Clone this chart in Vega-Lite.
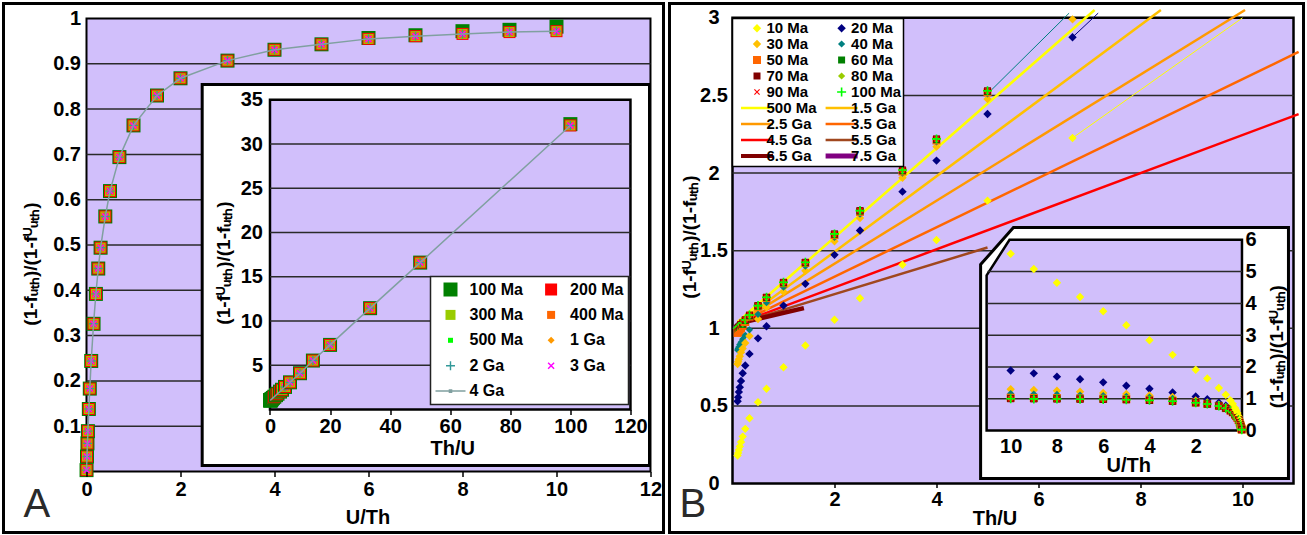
{
  "$schema": "https://vega.github.io/schema/vega-lite/v6.json",
  "background": "white",
  "padding": {"left": 1.5, "top": 1.5, "right": 0, "bottom": 0},
  "spacing": 2,
  "resolve": {
    "scale": {"fill": "independent", "shape": "independent", "color": "independent"},
    "legend": {"fill": "independent", "shape": "independent", "color": "independent"}
  },
  "datasets": {
    "lmain": [
      {"ut":0.001,"100 Ma":0.003,"200 Ma":0.003,"300 Ma":0.003,"400 Ma":0.003,"500 Ma":0.003,"1 Ga":0.003,"2 Ga":0.003,"3 Ga":0.003,"4 Ga":0.003},
      {"ut":0.01,"100 Ma":0.033,"200 Ma":0.033,"300 Ma":0.033,"400 Ma":0.033,"500 Ma":0.033,"1 Ga":0.033,"2 Ga":0.033,"3 Ga":0.033,"4 Ga":0.033},
      {"ut":0.02,"100 Ma":0.062,"200 Ma":0.062,"300 Ma":0.062,"400 Ma":0.062,"500 Ma":0.062,"1 Ga":0.062,"2 Ga":0.062,"3 Ga":0.062,"4 Ga":0.062},
      {"ut":0.03,"100 Ma":0.089,"200 Ma":0.089,"300 Ma":0.089,"400 Ma":0.089,"500 Ma":0.089,"1 Ga":0.089,"2 Ga":0.089,"3 Ga":0.089,"4 Ga":0.089},
      {"ut":0.05,"100 Ma":0.138,"200 Ma":0.138,"300 Ma":0.138,"400 Ma":0.138,"500 Ma":0.138,"1 Ga":0.138,"2 Ga":0.138,"3 Ga":0.138,"4 Ga":0.138},
      {"ut":0.07,"100 Ma":0.183,"200 Ma":0.183,"300 Ma":0.183,"400 Ma":0.183,"500 Ma":0.183,"1 Ga":0.183,"2 Ga":0.183,"3 Ga":0.183,"4 Ga":0.183},
      {"ut":0.1,"100 Ma":0.244,"200 Ma":0.244,"300 Ma":0.244,"400 Ma":0.244,"500 Ma":0.244,"1 Ga":0.244,"2 Ga":0.244,"3 Ga":0.244,"4 Ga":0.244},
      {"ut":0.15,"100 Ma":0.326,"200 Ma":0.326,"300 Ma":0.326,"400 Ma":0.326,"500 Ma":0.326,"1 Ga":0.326,"2 Ga":0.326,"3 Ga":0.326,"4 Ga":0.326},
      {"ut":0.2,"100 Ma":0.392,"200 Ma":0.392,"300 Ma":0.392,"400 Ma":0.392,"500 Ma":0.392,"1 Ga":0.392,"2 Ga":0.392,"3 Ga":0.392,"4 Ga":0.392},
      {"ut":0.25,"100 Ma":0.448,"200 Ma":0.448,"300 Ma":0.448,"400 Ma":0.448,"500 Ma":0.448,"1 Ga":0.448,"2 Ga":0.448,"3 Ga":0.448,"4 Ga":0.448},
      {"ut":0.3,"100 Ma":0.494,"200 Ma":0.494,"300 Ma":0.494,"400 Ma":0.494,"500 Ma":0.494,"1 Ga":0.494,"2 Ga":0.494,"3 Ga":0.494,"4 Ga":0.494},
      {"ut":0.4,"100 Ma":0.563,"200 Ma":0.563,"300 Ma":0.563,"400 Ma":0.563,"500 Ma":0.563,"1 Ga":0.563,"2 Ga":0.563,"3 Ga":0.563,"4 Ga":0.563},
      {"ut":0.5,"100 Ma":0.619,"200 Ma":0.619,"300 Ma":0.619,"400 Ma":0.619,"500 Ma":0.619,"1 Ga":0.619,"2 Ga":0.619,"3 Ga":0.619,"4 Ga":0.619},
      {"ut":0.7,"100 Ma":0.694,"200 Ma":0.694,"300 Ma":0.694,"400 Ma":0.694,"500 Ma":0.694,"1 Ga":0.694,"2 Ga":0.694,"3 Ga":0.694,"4 Ga":0.694},
      {"ut":1,"100 Ma":0.764,"200 Ma":0.764,"300 Ma":0.764,"400 Ma":0.764,"500 Ma":0.764,"1 Ga":0.764,"2 Ga":0.764,"3 Ga":0.764,"4 Ga":0.764},
      {"ut":1.5,"100 Ma":0.83,"200 Ma":0.83,"300 Ma":0.83,"400 Ma":0.83,"500 Ma":0.83,"1 Ga":0.83,"2 Ga":0.83,"3 Ga":0.83,"4 Ga":0.83},
      {"ut":2,"100 Ma":0.868,"200 Ma":0.868,"300 Ma":0.868,"400 Ma":0.868,"500 Ma":0.868,"1 Ga":0.868,"2 Ga":0.868,"3 Ga":0.868,"4 Ga":0.868},
      {"ut":3,"100 Ma":0.907,"200 Ma":0.907,"300 Ma":0.907,"400 Ma":0.907,"500 Ma":0.907,"1 Ga":0.907,"2 Ga":0.907,"3 Ga":0.907,"4 Ga":0.907},
      {"ut":4,"100 Ma":0.931,"200 Ma":0.931,"300 Ma":0.931,"400 Ma":0.931,"500 Ma":0.931,"1 Ga":0.931,"2 Ga":0.931,"3 Ga":0.931,"4 Ga":0.931},
      {"ut":5,"100 Ma":0.943,"200 Ma":0.943,"300 Ma":0.943,"400 Ma":0.943,"500 Ma":0.943,"1 Ga":0.943,"2 Ga":0.943,"3 Ga":0.943,"4 Ga":0.943},
      {"ut":6,"100 Ma":0.957,"200 Ma":0.955,"300 Ma":0.955,"400 Ma":0.955,"500 Ma":0.955,"1 Ga":0.955,"2 Ga":0.955,"3 Ga":0.955,"4 Ga":0.955},
      {"ut":7,"100 Ma":0.963,"200 Ma":0.961,"300 Ma":0.961,"400 Ma":0.961,"500 Ma":0.961,"1 Ga":0.961,"2 Ga":0.961,"3 Ga":0.961,"4 Ga":0.961},
      {"ut":8,"100 Ma":0.972,"200 Ma":0.966,"300 Ma":0.966,"400 Ma":0.966,"500 Ma":0.966,"1 Ga":0.966,"2 Ga":0.966,"3 Ga":0.966,"4 Ga":0.966},
      {"ut":9,"100 Ma":0.975,"200 Ma":0.97,"300 Ma":0.97,"400 Ma":0.97,"500 Ma":0.97,"1 Ga":0.97,"2 Ga":0.97,"3 Ga":0.97,"4 Ga":0.97},
      {"ut":10,"100 Ma":0.982,"200 Ma":0.972,"300 Ma":0.972,"400 Ma":0.972,"500 Ma":0.972,"1 Ga":0.972,"2 Ga":0.972,"3 Ga":0.972,"4 Ga":0.972}
    ],
    "linset": [
      {"tu":0.1,"100 Ma":1.029,"200 Ma":1.029,"300 Ma":1.029,"400 Ma":1.029,"500 Ma":1.029,"1 Ga":1.029,"2 Ga":1.029,"3 Ga":1.029,"4 Ga":1.029},
      {"tu":0.111,"100 Ma":1.031,"200 Ma":1.031,"300 Ma":1.031,"400 Ma":1.031,"500 Ma":1.031,"1 Ga":1.031,"2 Ga":1.031,"3 Ga":1.031,"4 Ga":1.031},
      {"tu":0.125,"100 Ma":1.035,"200 Ma":1.035,"300 Ma":1.035,"400 Ma":1.035,"500 Ma":1.035,"1 Ga":1.035,"2 Ga":1.035,"3 Ga":1.035,"4 Ga":1.035},
      {"tu":0.143,"100 Ma":1.041,"200 Ma":1.041,"300 Ma":1.041,"400 Ma":1.041,"500 Ma":1.041,"1 Ga":1.041,"2 Ga":1.041,"3 Ga":1.041,"4 Ga":1.041},
      {"tu":0.167,"100 Ma":1.047,"200 Ma":1.047,"300 Ma":1.047,"400 Ma":1.047,"500 Ma":1.047,"1 Ga":1.047,"2 Ga":1.047,"3 Ga":1.047,"4 Ga":1.047},
      {"tu":0.2,"100 Ma":1.059,"200 Ma":1.059,"300 Ma":1.059,"400 Ma":1.059,"500 Ma":1.059,"1 Ga":1.059,"2 Ga":1.059,"3 Ga":1.059,"4 Ga":1.059},
      {"tu":0.25,"100 Ma":1.074,"200 Ma":1.074,"300 Ma":1.074,"400 Ma":1.074,"500 Ma":1.074,"1 Ga":1.074,"2 Ga":1.074,"3 Ga":1.074,"4 Ga":1.074},
      {"tu":0.333,"100 Ma":1.103,"200 Ma":1.103,"300 Ma":1.103,"400 Ma":1.103,"500 Ma":1.103,"1 Ga":1.103,"2 Ga":1.103,"3 Ga":1.103,"4 Ga":1.103},
      {"tu":0.5,"100 Ma":1.152,"200 Ma":1.152,"300 Ma":1.152,"400 Ma":1.152,"500 Ma":1.152,"1 Ga":1.152,"2 Ga":1.152,"3 Ga":1.152,"4 Ga":1.152},
      {"tu":0.667,"100 Ma":1.205,"200 Ma":1.205,"300 Ma":1.205,"400 Ma":1.205,"500 Ma":1.205,"1 Ga":1.205,"2 Ga":1.205,"3 Ga":1.205,"4 Ga":1.205},
      {"tu":1,"100 Ma":1.31,"200 Ma":1.31,"300 Ma":1.31,"400 Ma":1.31,"500 Ma":1.31,"1 Ga":1.31,"2 Ga":1.31,"3 Ga":1.31,"4 Ga":1.31},
      {"tu":1.429,"100 Ma":1.44,"200 Ma":1.44,"300 Ma":1.44,"400 Ma":1.44,"500 Ma":1.44,"1 Ga":1.44,"2 Ga":1.44,"3 Ga":1.44,"4 Ga":1.44},
      {"tu":2,"100 Ma":1.62,"200 Ma":1.62,"300 Ma":1.62,"400 Ma":1.62,"500 Ma":1.62,"1 Ga":1.62,"2 Ga":1.62,"3 Ga":1.62,"4 Ga":1.62},
      {"tu":2.5,"100 Ma":1.78,"200 Ma":1.78,"300 Ma":1.78,"400 Ma":1.78,"500 Ma":1.78,"1 Ga":1.78,"2 Ga":1.78,"3 Ga":1.78,"4 Ga":1.78},
      {"tu":3.333,"100 Ma":2.02,"200 Ma":2.02,"300 Ma":2.02,"400 Ma":2.02,"500 Ma":2.02,"1 Ga":2.02,"2 Ga":2.02,"3 Ga":2.02,"4 Ga":2.02},
      {"tu":4,"100 Ma":2.23,"200 Ma":2.23,"300 Ma":2.23,"400 Ma":2.23,"500 Ma":2.23,"1 Ga":2.23,"2 Ga":2.23,"3 Ga":2.23,"4 Ga":2.23},
      {"tu":5,"100 Ma":2.55,"200 Ma":2.55,"300 Ma":2.55,"400 Ma":2.55,"500 Ma":2.55,"1 Ga":2.55,"2 Ga":2.55,"3 Ga":2.55,"4 Ga":2.55},
      {"tu":6.667,"100 Ma":3.07,"200 Ma":3.07,"300 Ma":3.07,"400 Ma":3.07,"500 Ma":3.07,"1 Ga":3.07,"2 Ga":3.07,"3 Ga":3.07,"4 Ga":3.07},
      {"tu":10,"100 Ma":4.1,"200 Ma":4.1,"300 Ma":4.1,"400 Ma":4.1,"500 Ma":4.1,"1 Ga":4.1,"2 Ga":4.1,"3 Ga":4.1,"4 Ga":4.1},
      {"tu":14.29,"100 Ma":5.53,"200 Ma":5.53,"300 Ma":5.53,"400 Ma":5.53,"500 Ma":5.53,"1 Ga":5.53,"2 Ga":5.53,"3 Ga":5.53,"4 Ga":5.53},
      {"tu":20,"100 Ma":7.3,"200 Ma":7.3,"300 Ma":7.3,"400 Ma":7.3,"500 Ma":7.3,"1 Ga":7.3,"2 Ga":7.3,"3 Ga":7.3,"4 Ga":7.3},
      {"tu":33.33,"100 Ma":11.45,"200 Ma":11.45,"300 Ma":11.45,"400 Ma":11.45,"500 Ma":11.45,"1 Ga":11.45,"2 Ga":11.45,"3 Ga":11.45,"4 Ga":11.45},
      {"tu":50,"100 Ma":16.6,"200 Ma":16.6,"300 Ma":16.6,"400 Ma":16.6,"500 Ma":16.6,"1 Ga":16.6,"2 Ga":16.6,"3 Ga":16.6,"4 Ga":16.6},
      {"tu":100,"100 Ma":32.25,"200 Ma":32.1,"300 Ma":32.1,"400 Ma":32.1,"500 Ma":32.1,"1 Ga":32.1,"2 Ga":32.1,"3 Ga":32.1,"4 Ga":32.1}
    ],
    "rmain": [
      {"tu":0.1,"10 Ma":0.18,"20 Ma":0.53,"30 Ma":0.77,"40 Ma":0.86,"50 Ma":0.97,"60 Ma":0.99,"70 Ma":1.0,"80 Ma":0.997,"90 Ma":1.0,"100 Ma":1.0},
      {"tu":0.111,"10 Ma":0.197,"20 Ma":0.556,"30 Ma":0.785,"40 Ma":0.87,"50 Ma":0.975,"60 Ma":0.995,"70 Ma":1.005,"80 Ma":1.002,"90 Ma":1.005,"100 Ma":1.005},
      {"tu":0.125,"10 Ma":0.215,"20 Ma":0.59,"30 Ma":0.8,"40 Ma":0.88,"50 Ma":0.98,"60 Ma":1.0,"70 Ma":1.01,"80 Ma":1.007,"90 Ma":1.01,"100 Ma":1.01},
      {"tu":0.143,"10 Ma":0.238,"20 Ma":0.62,"30 Ma":0.82,"40 Ma":0.895,"50 Ma":0.99,"60 Ma":1.005,"70 Ma":1.015,"80 Ma":1.012,"90 Ma":1.015,"100 Ma":1.015},
      {"tu":0.167,"10 Ma":0.267,"20 Ma":0.66,"30 Ma":0.845,"40 Ma":0.91,"50 Ma":1.0,"60 Ma":1.015,"70 Ma":1.025,"80 Ma":1.022,"90 Ma":1.025,"100 Ma":1.025},
      {"tu":0.2,"10 Ma":0.302,"20 Ma":0.71,"30 Ma":0.87,"40 Ma":0.93,"50 Ma":1.015,"60 Ma":1.025,"70 Ma":1.035,"80 Ma":1.032,"90 Ma":1.035,"100 Ma":1.035},
      {"tu":0.25,"10 Ma":0.352,"20 Ma":0.76,"30 Ma":0.905,"40 Ma":0.955,"50 Ma":1.04,"60 Ma":1.05,"70 Ma":1.055,"80 Ma":1.052,"90 Ma":1.055,"100 Ma":1.055},
      {"tu":0.333,"10 Ma":0.42,"20 Ma":0.835,"30 Ma":0.95,"40 Ma":0.99,"50 Ma":1.075,"60 Ma":1.08,"70 Ma":1.085,"80 Ma":1.082,"90 Ma":1.085,"100 Ma":1.085},
      {"tu":0.5,"10 Ma":0.524,"20 Ma":0.935,"30 Ma":1.06,"40 Ma":1.09,"50 Ma":1.14,"60 Ma":1.143,"70 Ma":1.146,"80 Ma":1.143,"90 Ma":1.146,"100 Ma":1.146},
      {"tu":0.667,"10 Ma":0.61,"20 Ma":1.013,"30 Ma":1.135,"40 Ma":1.165,"50 Ma":1.195,"60 Ma":1.198,"70 Ma":1.2,"80 Ma":1.197,"90 Ma":1.2,"100 Ma":1.2},
      {"tu":1,"10 Ma":0.749,"20 Ma":1.146,"30 Ma":1.235,"40 Ma":1.265,"50 Ma":1.29,"60 Ma":1.293,"70 Ma":1.296,"80 Ma":1.293,"90 Ma":1.296,"100 Ma":1.296},
      {"tu":1.429,"10 Ma":0.889,"20 Ma":1.286,"30 Ma":1.37,"40 Ma":1.4,"50 Ma":1.42,"60 Ma":1.422,"70 Ma":1.425,"80 Ma":1.422,"90 Ma":1.425,"100 Ma":1.425},
      {"tu":2,"10 Ma":1.055,"20 Ma":1.473,"30 Ma":1.56,"40 Ma":1.585,"50 Ma":1.6,"60 Ma":1.605,"70 Ma":1.608,"80 Ma":1.605,"90 Ma":1.608,"100 Ma":1.608},
      {"tu":2.5,"10 Ma":1.193,"20 Ma":1.63,"30 Ma":1.71,"40 Ma":1.735,"50 Ma":1.75,"60 Ma":1.755,"70 Ma":1.758,"80 Ma":1.755,"90 Ma":1.758,"100 Ma":1.758},
      {"tu":3.333,"10 Ma":1.409,"20 Ma":1.88,"30 Ma":1.97,"40 Ma":2.0,"50 Ma":2.01,"60 Ma":2.015,"70 Ma":2.02,"80 Ma":2.017,"90 Ma":2.02,"100 Ma":2.02},
      {"tu":4,"10 Ma":1.569,"20 Ma":2.08,"30 Ma":2.17,"40 Ma":2.2,"50 Ma":2.21,"60 Ma":2.215,"70 Ma":2.22,"80 Ma":2.217,"90 Ma":2.22,"100 Ma":2.22},
      {"tu":5,"10 Ma":1.822,"20 Ma":2.38,"30 Ma":2.477,"40 Ma":2.51,"50 Ma":2.52,"60 Ma":2.525,"70 Ma":2.53,"80 Ma":2.527,"90 Ma":2.53,"100 Ma":2.53},
      {"tu":6.667,"10 Ma":2.226,"20 Ma":2.875,"30 Ma":2.99,"40 Ma":null,"50 Ma":null,"60 Ma":null,"70 Ma":null,"80 Ma":null,"90 Ma":null,"100 Ma":null}
    ],
    "rinset": [
      {"ut":10,"10 Ma":5.56,"20 Ma":1.887,"30 Ma":1.3,"40 Ma":1.163,"50 Ma":1.031,"60 Ma":1.01,"70 Ma":1.0,"80 Ma":1.003,"90 Ma":1.0,"100 Ma":1.0},
      {"ut":9,"10 Ma":5.08,"20 Ma":1.799,"30 Ma":1.274,"40 Ma":1.149,"50 Ma":1.026,"60 Ma":1.005,"70 Ma":0.995,"80 Ma":0.998,"90 Ma":0.995,"100 Ma":0.995},
      {"ut":8,"10 Ma":4.65,"20 Ma":1.695,"30 Ma":1.25,"40 Ma":1.136,"50 Ma":1.02,"60 Ma":1.0,"70 Ma":0.99,"80 Ma":0.993,"90 Ma":0.99,"100 Ma":0.99},
      {"ut":7,"10 Ma":4.2,"20 Ma":1.613,"30 Ma":1.22,"40 Ma":1.117,"50 Ma":1.01,"60 Ma":0.995,"70 Ma":0.985,"80 Ma":0.988,"90 Ma":0.985,"100 Ma":0.985},
      {"ut":6,"10 Ma":3.75,"20 Ma":1.515,"30 Ma":1.183,"40 Ma":1.099,"50 Ma":1.0,"60 Ma":0.985,"70 Ma":0.976,"80 Ma":0.979,"90 Ma":0.976,"100 Ma":0.976},
      {"ut":5,"10 Ma":3.31,"20 Ma":1.408,"30 Ma":1.149,"40 Ma":1.075,"50 Ma":0.985,"60 Ma":0.976,"70 Ma":0.966,"80 Ma":0.969,"90 Ma":0.966,"100 Ma":0.966},
      {"ut":4,"10 Ma":2.84,"20 Ma":1.316,"30 Ma":1.105,"40 Ma":1.047,"50 Ma":0.962,"60 Ma":0.952,"70 Ma":0.948,"80 Ma":0.951,"90 Ma":0.948,"100 Ma":0.948},
      {"ut":3,"10 Ma":2.38,"20 Ma":1.198,"30 Ma":1.053,"40 Ma":1.01,"50 Ma":0.93,"60 Ma":0.926,"70 Ma":0.922,"80 Ma":0.925,"90 Ma":0.922,"100 Ma":0.922},
      {"ut":2,"10 Ma":1.91,"20 Ma":1.07,"30 Ma":0.943,"40 Ma":0.917,"50 Ma":0.877,"60 Ma":0.875,"70 Ma":0.873,"80 Ma":0.875,"90 Ma":0.873,"100 Ma":0.873},
      {"ut":1.5,"10 Ma":1.64,"20 Ma":0.987,"30 Ma":0.881,"40 Ma":0.858,"50 Ma":0.837,"60 Ma":0.835,"70 Ma":0.833,"80 Ma":0.835,"90 Ma":0.833,"100 Ma":0.833},
      {"ut":1,"10 Ma":1.335,"20 Ma":0.873,"30 Ma":0.81,"40 Ma":0.791,"50 Ma":0.775,"60 Ma":0.773,"70 Ma":0.772,"80 Ma":0.773,"90 Ma":0.772,"100 Ma":0.772},
      {"ut":0.7,"10 Ma":1.125,"20 Ma":0.778,"30 Ma":0.73,"40 Ma":0.714,"50 Ma":0.704,"60 Ma":0.703,"70 Ma":0.702,"80 Ma":0.703,"90 Ma":0.702,"100 Ma":0.702},
      {"ut":0.5,"10 Ma":0.948,"20 Ma":0.679,"30 Ma":0.641,"40 Ma":0.631,"50 Ma":0.625,"60 Ma":0.623,"70 Ma":0.622,"80 Ma":0.623,"90 Ma":0.622,"100 Ma":0.622},
      {"ut":0.4,"10 Ma":0.838,"20 Ma":0.613,"30 Ma":0.585,"40 Ma":0.576,"50 Ma":0.571,"60 Ma":0.57,"70 Ma":0.569,"80 Ma":0.57,"90 Ma":0.569,"100 Ma":0.569},
      {"ut":0.3,"10 Ma":0.71,"20 Ma":0.532,"30 Ma":0.508,"40 Ma":0.5,"50 Ma":0.498,"60 Ma":0.496,"70 Ma":0.495,"80 Ma":0.496,"90 Ma":0.495,"100 Ma":0.495},
      {"ut":0.25,"10 Ma":0.637,"20 Ma":0.481,"30 Ma":0.461,"40 Ma":0.455,"50 Ma":0.452,"60 Ma":0.451,"70 Ma":0.45,"80 Ma":0.451,"90 Ma":0.45,"100 Ma":0.45},
      {"ut":0.2,"10 Ma":0.549,"20 Ma":0.42,"30 Ma":0.404,"40 Ma":0.398,"50 Ma":0.397,"60 Ma":0.396,"70 Ma":0.395,"80 Ma":0.396,"90 Ma":0.395,"100 Ma":0.395},
      {"ut":0.15,"10 Ma":0.449,"20 Ma":0.348,"30 Ma":0.334,"40 Ma":0.329,"50 Ma":0.327,"60 Ma":0.327,"70 Ma":0.328,"80 Ma":0.327,"90 Ma":0.328,"100 Ma":0.328},
      {"ut":0.1,"10 Ma":0.333,"20 Ma":0.26,"30 Ma":0.25,"40 Ma":0.25,"50 Ma":0.248,"60 Ma":0.248,"70 Ma":0.25,"80 Ma":0.249,"90 Ma":0.25,"100 Ma":0.25},
      {"ut":0.07,"10 Ma":0.24,"20 Ma":0.19,"30 Ma":0.18,"40 Ma":0.18,"50 Ma":0.178,"60 Ma":0.178,"70 Ma":0.18,"80 Ma":0.179,"90 Ma":0.18,"100 Ma":0.18},
      {"ut":0.05,"10 Ma":0.175,"20 Ma":0.14,"30 Ma":0.135,"40 Ma":0.13,"50 Ma":0.13,"60 Ma":0.13,"70 Ma":0.13,"80 Ma":0.13,"90 Ma":0.13,"100 Ma":0.13},
      {"ut":0.03,"10 Ma":0.105,"20 Ma":0.085,"30 Ma":0.083,"40 Ma":0.082,"50 Ma":0.08,"60 Ma":0.08,"70 Ma":0.08,"80 Ma":0.08,"90 Ma":0.08,"100 Ma":0.08},
      {"ut":0.02,"10 Ma":0.07,"20 Ma":0.057,"30 Ma":0.056,"40 Ma":0.055,"50 Ma":0.054,"60 Ma":0.054,"70 Ma":0.054,"80 Ma":0.054,"90 Ma":0.054,"100 Ma":0.054},
      {"ut":0.01,"10 Ma":0.035,"20 Ma":0.029,"30 Ma":0.028,"40 Ma":0.028,"50 Ma":0.027,"60 Ma":0.027,"70 Ma":0.027,"80 Ma":0.027,"90 Ma":0.027,"100 Ma":0.027}
    ],
    "rlines": [
      {"series":"500 Ma","tu":0.1,"y":1.04},{"series":"500 Ma","tu":7.1,"y":3.05},
      {"series":"1.5 Ga","tu":0.1,"y":1.03},{"series":"1.5 Ga","tu":8.4,"y":3.05},
      {"series":"2.5 Ga","tu":0.1,"y":1.03},{"series":"2.5 Ga","tu":10.05,"y":3.05},
      {"series":"3.5 Ga","tu":0.1,"y":1.03},{"series":"3.5 Ga","tu":11.1,"y":2.78},
      {"series":"4.5 Ga","tu":0.1,"y":1.03},{"series":"4.5 Ga","tu":11.1,"y":2.38},
      {"series":"5.5 Ga","tu":0.1,"y":1.03},{"series":"5.5 Ga","tu":5.0,"y":1.52},
      {"series":"6.5 Ga","tu":0.1,"y":1.03},{"series":"6.5 Ga","tu":1.4,"y":1.13},
      {"series":"7.5 Ga","tu":0.02,"y":1.0},{"series":"7.5 Ga","tu":0.15,"y":1.015}
    ],
    "rsegs": [
      {"series":"10 Ma","tu":6.667,"y":2.226},{"series":"10 Ma","tu":10.0,"y":3.0},
      {"series":"20 Ma","tu":6.667,"y":2.875},{"series":"20 Ma","tu":7.17,"y":3.03},
      {"series":"40 Ma","tu":5.0,"y":2.51},{"series":"40 Ma","tu":6.6,"y":3.03}
    ]
  },
  "hconcat": [
    {
      "width": 660,
      "height": 529,
      "title": {"text": "A", "orient": "bottom", "anchor": "start", "frame": "group", "offset": -48, "dx": 20, "fontSize": 40, "fontWeight": "normal", "color": "#2a2a2a"},
      "resolve": {"scale": {"x": "independent", "y": "independent"}},
      "layer": [
        {
          "layer": [
            {
              "data": {"values": [{}]},
              "mark": {"type": "rect", "fill": "#D1BFFB", "stroke": "#000", "strokeWidth": 2},
              "encoding": {
                "x": {"datum": 0, "type": "quantitative", "scale": {"domain": [-1.766, 12.277], "nice": false, "zero": false},
                      "axis": {"orient": "bottom", "offset": -61, "values": [0, 2, 4, 6, 8, 10, 12], "ticks": true, "tickSize": 5, "labelPadding": 3, "title": "U/Th", "titleX": 364, "titleY": 46, "zindex": 2}},
                "x2": {"datum": 12},
                "y": {"datum": 0, "type": "quantitative", "scale": {"domain": [-0.1347, 1.0331], "nice": false, "zero": false},
                      "axis": {"orient": "left", "offset": -83, "values": [0.1, 0.2, 0.3, 0.4, 0.5, 0.6, 0.7, 0.8, 0.9, 1], "format": ".1~f", "ticks": false, "tickSize": 0, "labelPadding": 6, "title": "(1-fᵤₜₕ)/(1-fᵁᵤₜₕ)", "titleX": -56, "titleY": 260, "titleAngle": 270, "titleFontSize": 19, "zindex": 2}},
                "y2": {"datum": 1}
              }
            },
            {
              "data": {"values": [{"g": 0.1}, {"g": 0.2}, {"g": 0.3}, {"g": 0.4}, {"g": 0.5}, {"g": 0.6}, {"g": 0.7}, {"g": 0.8}, {"g": 0.9}]},
              "mark": {"type": "rule", "color": "#2a2a2a", "strokeWidth": 1.5},
              "encoding": {"x": {"datum": 0, "type": "quantitative"}, "x2": {"datum": 12}, "y": {"field": "g", "type": "quantitative"}}
            },
            {
              "data": {"name": "lmain"},
              "transform": [{"fold": ["100 Ma", "200 Ma", "300 Ma", "400 Ma", "500 Ma", "1 Ga", "2 Ga", "3 Ga"], "as": ["series", "v"]}],
              "mark": {"type": "point", "filled": true, "opacity": 1, "size": 4, "strokeWidth": 0},
              "encoding": {
                "x": {"field": "ut", "type": "quantitative"},
                "y": {"field": "v", "type": "quantitative"},
                "fill": {"field": "series", "type": "nominal",
                  "scale": {"domain": ["100 Ma", "200 Ma", "300 Ma", "400 Ma", "500 Ma", "1 Ga", "2 Ga", "3 Ga", "4 Ga"],
                            "range": ["#008000", "#FF0000", "#99CC00", "#FF6600", "#00FF00", "#FF9900", "#339999", "#FF00FF", "#80A0A0"]},
                  "legend": {"orient": "none", "direction": "horizontal", "legendX": 427, "legendY": 273, "columns": 2, "title": null, "padding": 5, "rowPadding": 9.4, "columnPadding": 12.6, "symbolOffset": 7, "labelOffset": 11, "symbolSize": 4, "symbolStrokeWidth": 0, "labelFontSize": 16, "labelFontWeight": "bold", "labelColor": "#000", "strokeColor": "#222", "fillColor": "#fff"}},
                "shape": {"field": "series", "type": "nominal",
                  "scale": {"domain": ["100 Ma", "200 Ma", "300 Ma", "400 Ma", "500 Ma", "1 Ga", "2 Ga", "3 Ga", "4 Ga"],
                            "range": ["M-7,-7H7V7H-7Z", "M-6,-6H6V6H-6Z", "M-5,-5H5V5H-5Z", "M-4,-4H4V4H-4Z", "M-2.5,-2.5H2.5V2.5H-2.5Z", "M0,-3.5L3.5,0L0,3.5L-3.5,0Z", "M-4.5,-0.7H4.5V0.7H-4.5Z M-0.7,-4.5H0.7V4.5H-0.7Z", "M-3.5,-2.5L-2.5,-3.5L3.5,2.5L2.5,3.5Z M2.5,-3.5L3.5,-2.5L-2.5,3.5L-3.5,2.5Z", "M-15,-0.75H15V0.75H-15Z M-1.8,-1.8H1.8V1.8H-1.8Z"]},
                  "legend": {"orient": "none", "direction": "horizontal", "legendX": 427, "legendY": 273, "columns": 2, "title": null, "padding": 5, "rowPadding": 9.4, "columnPadding": 12.6, "symbolOffset": 7, "labelOffset": 11, "symbolSize": 4, "symbolStrokeWidth": 0, "labelFontSize": 16, "labelFontWeight": "bold", "labelColor": "#000", "strokeColor": "#222", "fillColor": "#fff"}}
              }
            },
            {
              "data": {"name": "lmain"},
              "mark": {"type": "line", "color": "#80A0A0", "strokeWidth": 1.5},
              "encoding": {"x": {"field": "ut", "type": "quantitative"}, "y": {"field": "4 Ga", "type": "quantitative"}}
            }
          ]
        },
        {
          "layer": [
            {
              "data": {"values": [{}]},
              "mark": {"type": "rect", "fill": "#fff", "stroke": "#000", "strokeWidth": 3},
              "encoding": {
                "x": {"datum": -22.57, "type": "quantitative", "scale": {"domain": [-88.71, 131.0], "nice": false, "zero": false},
                      "axis": {"orient": "bottom", "offset": -123, "values": [0, 20, 40, 60, 80, 100, 120], "ticks": true, "tickSize": 5, "labelPadding": 2, "title": "Th/U", "titleX": 448.7, "titleY": 39, "zindex": 2}},
                "x2": {"datum": 126.34},
                "y": {"datum": -6.33, "type": "quantitative", "scale": {"domain": [-13.9, 45.88], "nice": false, "zero": false},
                      "axis": {"orient": "left", "offset": -266.5, "values": [5, 10, 15, 20, 25, 30, 35], "ticks": false, "tickSize": 0, "labelPadding": 7.5, "title": "(1-fᵁᵤₜₕ)/(1-fᵤₜₕ)", "titleX": -46.5, "titleY": 259, "titleAngle": 270, "titleFontSize": 19, "zindex": 2}},
                "y2": {"datum": 36.73}
              }
            },
            {
              "data": {"values": [{}]},
              "mark": {"type": "rect", "fill": "#D1BFFB", "stroke": "#000", "strokeWidth": 2.5},
              "encoding": {"x": {"datum": 0, "type": "quantitative"}, "x2": {"datum": 120}, "y": {"datum": 0, "type": "quantitative"}, "y2": {"datum": 35}}
            },
            {
              "data": {"values": [{"g": 5}, {"g": 10}, {"g": 15}, {"g": 20}, {"g": 25}, {"g": 30}]},
              "mark": {"type": "rule", "color": "#2a2a2a", "strokeWidth": 1.5},
              "encoding": {"x": {"datum": 0, "type": "quantitative"}, "x2": {"datum": 120}, "y": {"field": "g", "type": "quantitative"}}
            },
            {
              "data": {"name": "linset"},
              "transform": [{"fold": ["100 Ma", "200 Ma", "300 Ma", "400 Ma", "500 Ma", "1 Ga", "2 Ga", "3 Ga"], "as": ["series", "v"]}],
              "mark": {"type": "point", "filled": true, "opacity": 1, "size": 4, "strokeWidth": 0},
              "encoding": {
                "x": {"field": "tu", "type": "quantitative"},
                "y": {"field": "v", "type": "quantitative"},
                "fill": {"field": "series", "type": "nominal", "legend": null},
                "shape": {"field": "series", "type": "nominal", "legend": null}
              }
            },
            {
              "data": {"name": "linset"},
              "mark": {"type": "line", "color": "#80A0A0", "strokeWidth": 1.5},
              "encoding": {"x": {"field": "tu", "type": "quantitative"}, "y": {"field": "4 Ga", "type": "quantitative"}}
            }
          ]
        }
      ]
    },
    {
      "width": 634,
      "height": 529,
      "title": {"text": "B", "orient": "bottom", "anchor": "start", "frame": "group", "offset": -48, "dx": 10, "fontSize": 40, "fontWeight": "normal", "color": "#2a2a2a"},
      "resolve": {"scale": {"x": "independent", "y": "independent"}},
      "layer": [
        {
          "layer": [
            {
              "data": {"values": [{}]},
              "mark": {"type": "rect", "fill": "#D1BFFB", "stroke": "#000", "strokeWidth": 2.5},
              "encoding": {
                "x": {"datum": 0, "type": "quantitative", "scale": {"domain": [-1.2353, 11.196], "nice": false, "zero": false},
                      "axis": {"orient": "bottom", "offset": -49, "values": [2, 4, 6, 8, 10], "ticks": true, "tickSize": 4, "labelPadding": 2, "title": "Th/U", "titleX": 325, "titleY": 35, "zindex": 2}},
                "x2": {"datum": 11},
                "y": {"datum": 0, "type": "quantitative", "scale": {"domain": [-0.3157, 3.0922], "nice": false, "zero": false},
                      "axis": {"orient": "left", "offset": -63, "values": [0, 0.5, 1, 1.5, 2, 2.5, 3], "format": ".1~f", "ticks": false, "tickSize": 0, "labelAlign": "center", "labelPadding": 19, "title": "(1-fᵁᵤₜₕ)/(1-fᵤₜₕ)", "titleX": -43, "titleY": 233, "titleAngle": 270, "titleFontSize": 19, "zindex": 2}},
                "y2": {"datum": 3}
              }
            },
            {
              "data": {"values": [{"g": 0.5}, {"g": 1}, {"g": 1.5}, {"g": 2}, {"g": 2.5}]},
              "mark": {"type": "rule", "color": "#2a2a2a", "strokeWidth": 1.5},
              "encoding": {"x": {"datum": 0, "type": "quantitative"}, "x2": {"datum": 11}, "y": {"field": "g", "type": "quantitative"}}
            },
            {
              "data": {"name": "rlines"},
              "transform": [{"filter": {"field": "series", "oneOf": ["500 Ma", "1.5 Ga", "2.5 Ga", "3.5 Ga", "4.5 Ga", "5.5 Ga"]}}],
              "mark": {"type": "line", "strokeWidth": 2.5},
              "encoding": {
                "x": {"field": "tu", "type": "quantitative"},
                "y": {"field": "y", "type": "quantitative"},
                "color": {"field": "series", "type": "nominal", "legend": null,
                  "scale": {"domain": ["10 Ma", "20 Ma", "40 Ma", "500 Ma", "1.5 Ga", "2.5 Ga", "3.5 Ga", "4.5 Ga", "5.5 Ga", "6.5 Ga", "7.5 Ga"],
                            "range": ["#FFFF00", "#000080", "#008080", "#FFFF00", "#FFC000", "#FF9900", "#FF6600", "#FF0000", "#A0471E", "#800000", "#800080"]}}
              }
            },
            {
              "data": {"name": "rlines"},
              "transform": [{"filter": {"field": "series", "equal": "6.5 Ga"}}],
              "mark": {"type": "line", "strokeWidth": 4.5},
              "encoding": {
                "x": {"field": "tu", "type": "quantitative"},
                "y": {"field": "y", "type": "quantitative"},
                "color": {"field": "series", "type": "nominal", "legend": null}
              }
            },
            {
              "data": {"name": "rlines"},
              "transform": [{"filter": {"field": "series", "equal": "7.5 Ga"}}],
              "mark": {"type": "line", "strokeWidth": 5},
              "encoding": {
                "x": {"field": "tu", "type": "quantitative"},
                "y": {"field": "y", "type": "quantitative"},
                "color": {"field": "series", "type": "nominal", "legend": null}
              }
            },
            {
              "data": {"name": "rsegs"},
              "mark": {"type": "line", "strokeWidth": 1},
              "encoding": {
                "x": {"field": "tu", "type": "quantitative"},
                "y": {"field": "y", "type": "quantitative"},
                "color": {"field": "series", "type": "nominal", "legend": null}
              }
            },
            {
              "data": {"name": "rmain"},
              "transform": [{"fold": ["10 Ma", "20 Ma", "30 Ma", "40 Ma", "50 Ma", "60 Ma", "70 Ma", "80 Ma", "90 Ma", "100 Ma"], "as": ["series", "v"]}],
              "mark": {"type": "point", "filled": true, "opacity": 1, "size": 4, "strokeWidth": 0},
              "encoding": {
                "x": {"field": "tu", "type": "quantitative"},
                "y": {"field": "v", "type": "quantitative"},
                "fill": {"field": "series", "type": "nominal",
                  "scale": {"domain": ["10 Ma", "20 Ma", "30 Ma", "40 Ma", "50 Ma", "60 Ma", "70 Ma", "80 Ma", "90 Ma", "100 Ma", "500 Ma", "1.5 Ga", "2.5 Ga", "3.5 Ga", "4.5 Ga", "5.5 Ga", "6.5 Ga", "7.5 Ga"],
                            "range": ["#FFFF00", "#000080", "#FFC000", "#008080", "#FF6600", "#008000", "#800000", "#99CC00", "#FF0000", "#00FF00", "#FFFF00", "#FFC000", "#FF9900", "#FF6600", "#FF0000", "#A0471E", "#800000", "#800080"]},
                  "legend": {"orient": "none", "direction": "horizontal", "legendX": 63, "legendY": 15, "columns": 2, "title": null, "padding": 2, "rowPadding": 0, "columnPadding": 1.6, "symbolOffset": 15, "labelOffset": 2, "symbolSize": 4, "symbolStrokeWidth": 0, "labelFontSize": 15, "labelFontWeight": "bold", "labelColor": "#000", "strokeColor": "#000", "fillColor": "#fff"}},
                "shape": {"field": "series", "type": "nominal",
                  "scale": {"domain": ["10 Ma", "20 Ma", "30 Ma", "40 Ma", "50 Ma", "60 Ma", "70 Ma", "80 Ma", "90 Ma", "100 Ma", "500 Ma", "1.5 Ga", "2.5 Ga", "3.5 Ga", "4.5 Ga", "5.5 Ga", "6.5 Ga", "7.5 Ga"],
                            "range": ["M0,-4.2L4.2,0L0,4.2L-4.2,0Z", "M0,-4.2L4.2,0L0,4.2L-4.2,0Z", "M0,-4.2L4.2,0L0,4.2L-4.2,0Z", "M0,-3.6L3.6,0L0,3.6L-3.6,0Z", "M-4,-4H4V4H-4Z", "M-3.5,-3.5H3.5V3.5H-3.5Z", "M-3.5,-3.5H3.5V3.5H-3.5Z", "M0,-3.6L3.6,0L0,3.6L-3.6,0Z", "M-3,-2.2L-2.2,-3L3,2.2L2.2,3Z M2.2,-3L3,-2.2L-2.2,3L-3,2.2Z", "M-4.5,-0.8H4.5V0.8H-4.5Z M-0.8,-4.5H0.8V4.5H-0.8Z", "M-16,-1.25H16V1.25H-16Z", "M-16,-1.25H16V1.25H-16Z", "M-16,-1.25H16V1.25H-16Z", "M-16,-1.25H16V1.25H-16Z", "M-16,-1.25H16V1.25H-16Z", "M-16,-1.25H16V1.25H-16Z", "M-16,-2H16V2H-16Z", "M-16,-2.5H16V2.5H-16Z"]},
                  "legend": {"orient": "none", "direction": "horizontal", "legendX": 63, "legendY": 15, "columns": 2, "title": null, "padding": 2, "rowPadding": 0, "columnPadding": 1.6, "symbolOffset": 15, "labelOffset": 2, "symbolSize": 4, "symbolStrokeWidth": 0, "labelFontSize": 15, "labelFontWeight": "bold", "labelColor": "#000", "strokeColor": "#000", "fillColor": "#fff"}}
              }
            }
          ]
        },
        {
          "layer": [
            {
              "data": {"values": [{"u": 11.3, "top": 5.22, "base": -1.51}, {"u": 9.88, "top": 6.39, "base": -1.51}, {"u": -2.01, "top": 6.39, "base": -1.51}]},
              "mark": {"type": "area", "fill": "#fff", "stroke": "#000", "strokeWidth": 3, "opacity": 1},
              "encoding": {
                "x": {"field": "u", "type": "quantitative", "scale": {"domain": [-2.66, 24.75], "reverse": true, "nice": false, "zero": false},
                      "axis": {"orient": "bottom", "offset": -102, "values": [10, 8, 6, 4, 2], "ticks": false, "tickSize": 0, "labelPadding": 6, "title": "U/Th", "titleX": 458.7, "titleY": 35, "zindex": 2}},
                "y": {"field": "top", "type": "quantitative", "scale": {"domain": [-3.2096, 13.436], "nice": false, "zero": false},
                      "axis": {"orient": "right", "offset": -61.6, "values": [0, 1, 2, 3, 4, 5, 6], "ticks": false, "tickSize": 0, "labelPadding": 3, "title": "(1-fᵤₜₕ)/(1-fᵁᵤₜₕ)", "titleX": 34.6, "titleY": 342.7, "titleAngle": 270, "titleFontSize": 19, "zindex": 2}},
                "y2": {"field": "base"}
              }
            },
            {
              "data": {"values": [{"u": 11.04, "top": 4.88, "base": 0}, {"u": 10.05, "top": 6, "base": 0}, {"u": 0, "top": 6, "base": 0}]},
              "mark": {"type": "area", "fill": "#D1BFFB", "stroke": "#000", "strokeWidth": 2.5, "opacity": 1},
              "encoding": {
                "x": {"field": "u", "type": "quantitative"},
                "y": {"field": "top", "type": "quantitative"},
                "y2": {"field": "base"}
              }
            },
            {
              "data": {"values": [{"g": 1}, {"g": 2}, {"g": 3}, {"g": 4}, {"g": 5}]},
              "mark": {"type": "rule", "color": "#2a2a2a", "strokeWidth": 1.5},
              "encoding": {"x": {"datum": 11, "type": "quantitative"}, "x2": {"datum": 0}, "y": {"field": "g", "type": "quantitative"}}
            },
            {
              "data": {"name": "rinset"},
              "transform": [{"fold": ["10 Ma", "20 Ma", "30 Ma", "40 Ma", "50 Ma", "60 Ma", "70 Ma", "80 Ma", "90 Ma", "100 Ma"], "as": ["series", "v"]}],
              "mark": {"type": "point", "filled": true, "opacity": 1, "size": 4, "strokeWidth": 0},
              "encoding": {
                "x": {"field": "ut", "type": "quantitative"},
                "y": {"field": "v", "type": "quantitative"},
                "fill": {"field": "series", "type": "nominal", "legend": null},
                "shape": {"field": "series", "type": "nominal", "legend": null}
              }
            }
          ]
        }
      ]
    }
  ],
  "config": {
    "font": "Liberation Sans",
    "view": {"stroke": "#000", "strokeWidth": 3},
    "axis": {"domain": false, "grid": false, "labelFontSize": 20, "labelFontWeight": "bold", "labelColor": "#000", "titleFontSize": 20, "titleFontWeight": "bold", "titleColor": "#000", "titleAlign": "center", "titleBaseline": "middle", "labelFlush": false, "labelOverlap": false, "tickColor": "#000", "tickWidth": 1.5},
    "legend": {"strokeWidth": 1.5}
  }
}
